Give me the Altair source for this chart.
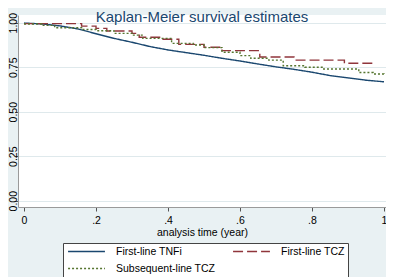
import altair as alt
import pandas as pd

series_names = ["First-line TNFi", "First-line TCZ", "Subsequent-line TCZ"]
series_colors = ["#1a476f", "#90353b", "#55752f"]

# First-line TNFi (smooth-looking KM curve)
tnfi_t = [0.0, 0.05, 0.1, 0.15, 0.2, 0.25, 0.3, 0.35, 0.4, 0.45, 0.5,
          0.55, 0.6, 0.65, 0.7, 0.75, 0.8, 0.85, 0.9, 0.95, 1.0]
tnfi_s = [0.998, 0.993, 0.982, 0.965, 0.938, 0.912, 0.890, 0.866, 0.847, 0.832, 0.817,
          0.800, 0.785, 0.768, 0.752, 0.738, 0.722, 0.703, 0.690, 0.677, 0.668]

# First-line TCZ (step curve)
tcz1_t = [0.0, 0.16, 0.20, 0.23, 0.30, 0.32, 0.38, 0.43, 0.50, 0.55, 0.655, 0.75, 0.89, 0.978]
tcz1_s = [0.995, 0.981, 0.968, 0.953, 0.940, 0.918, 0.907, 0.878, 0.862, 0.843, 0.807, 0.790, 0.772, 0.772]

# Subsequent-line TCZ (step curve)
tcz2_t = [0.0, 0.05, 0.085, 0.16, 0.20, 0.25, 0.30, 0.33, 0.41, 0.47, 0.50, 0.55, 0.60, 0.63,
          0.68, 0.72, 0.78, 0.83, 0.93, 0.97, 1.0]
tcz2_s = [0.993, 0.985, 0.972, 0.962, 0.955, 0.940, 0.930, 0.912, 0.884, 0.875, 0.860, 0.834,
          0.815, 0.800, 0.790, 0.758, 0.750, 0.740, 0.720, 0.712, 0.708]

x_ticks = [0, 0.2, 0.4, 0.6, 0.8, 1]
y_ticks = [0, 0.25, 0.5, 0.75, 1]

rows = []
for name, ts, ss in [(series_names[0], tnfi_t, tnfi_s),
                     (series_names[1], tcz1_t, tcz1_s),
                     (series_names[2], tcz2_t, tcz2_s)]:
    for t, s in zip(ts, ss):
        rows.append({"t": t, "s": s, "series": name})
df = pd.DataFrame(rows)

FONT = "Liberation Sans"

legend = alt.Legend(
    title=None, orient="none", legendX=45, legendY=228, columns=2, direction="horizontal",
    symbolType="M-4,0H4", symbolSize=85, symbolOffset=15, labelOffset=24,
    symbolStrokeWidth=1.4, labelFont=FONT, labelFontSize=10.5, labelColor="#000000",
    fillColor="#ffffff", strokeColor="#444444", padding=3, columnPadding=14,
    rowPadding=6, labelLimit=300,
)

color = alt.Color("series:N", scale=alt.Scale(domain=series_names, range=series_colors), legend=legend)
dash = alt.StrokeDash("series:N", scale=alt.Scale(domain=series_names, range=[[1, 0], [10, 4], [2, 2]]), legend=legend)

x = alt.X("t:Q", scale=alt.Scale(domain=[-0.0167, 1.0056], nice=False, zero=False),
          axis=alt.Axis(values=x_ticks, title="analysis time (year)", grid=False,
                        labelExpr="datum.value == 0 ? '0' : datum.value == 1 ? '1' : replace(format(datum.value, '.1f'), '0.', '.')",
                        tickSize=4, labelPadding=4, titlePadding=2))
y = alt.Y("s:Q", scale=alt.Scale(domain=[-0.0354, 1.0433], nice=False, zero=False),
          axis=alt.Axis(values=y_ticks, format=".2f", title=None, grid=True,
                        labelAngle=270, labelAlign="center", labelBaseline="alphabetic",
                        tickSize=3, labelPadding=-1))

base = alt.Chart(df).encode(x=x, y=y, color=color, strokeDash=dash)

smooth = base.transform_filter(alt.datum.series == series_names[0]).mark_line(strokeWidth=1.4, interpolate="linear")
steps = base.transform_filter(alt.datum.series != series_names[0]).mark_line(strokeWidth=1.4, interpolate="step-after")

chart = alt.layer(smooth, steps).properties(
    width=368, height=192,
    title=alt.Title("Kaplan-Meier survival estimates", font=FONT, fontSize=15, fontWeight="normal",
                    color="#1a476f", anchor="middle", offset=-4, dy=9),
    autosize=alt.AutoSizeParams(type="none"),
    padding={"left": 10, "top": 7, "right": 0, "bottom": 70},
    background="#e9f1f3",
).configure_view(
    fill="#ffffff", strokeWidth=0,
).configure_axis(
    labelFont=FONT, labelFontSize=10.5, labelColor="#000000",
    titleFont=FONT, titleFontSize=10.5, titleColor="#000000", titleFontWeight="normal",
    domainColor="#9a9a9a", tickColor="#555555", gridColor="#dfe9ec", gridWidth=1,
)

chart.save("out.html", embed_options={"renderer": "svg", "actions": False})
